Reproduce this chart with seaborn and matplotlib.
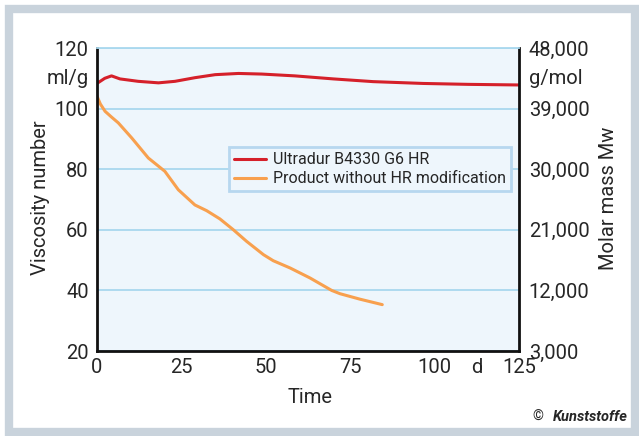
import matplotlib
matplotlib.use("Agg")
import matplotlib.pyplot as plt
import seaborn as sns
import pandas as pd
from matplotlib.patches import Rectangle

# ---- data ----
time_ultradur = [0, 0.4, 2.3, 4.3, 6.8, 12.2, 18.2, 23.1, 29, 35, 41.9, 48.8, 58.6, 70, 81.8, 96.6, 110, 125]
visc_ultradur = [108.3, 108.6, 110.0, 110.8, 109.8, 109.0, 108.5, 109.0, 110.2, 111.2, 111.6, 111.4, 110.8, 109.8, 108.9, 108.3, 108.0, 107.8]

time_product = [0, 1, 2.4, 4.2, 6.3, 10.3, 15.2, 20.1, 24.1, 29.0, 32.5, 36.4, 40.4, 44.3, 49.3, 52.2,
                57.2, 63.1, 69.5, 72.0, 77.9, 84.5]
visc_product = [104.1, 101.5, 99.1, 97.3, 95.3, 90.3, 83.7, 79.3, 73.2, 68.2, 66.3, 63.6, 60.0, 56.2, 51.8, 49.8,
                47.4, 44.1, 40.0, 38.9, 37.1, 35.3]

series_names = ["Ultradur B4330 G6 HR", "Product without HR modification"]
x_ticks = [0, 25, 50, 75, 100, 125]
y_ticks = [20, 40, 60, 80, 100, 120]
y2_ticks = [3000, 12000, 21000, 30000, 39000, 48000]
y2_labels = ["3,000", "12,000", "21,000", "30,000", "39,000", "48,000"]

RED = "#d5202a"
ORANGE = "#f8a04e"
GRID = "#a9d8ee"
BG = "#eef6fc"

sns.set_theme(style="white")
plt.rcParams['font.family'] = ['Roboto', 'DejaVu Sans']

df = pd.concat([
    pd.DataFrame({"Time": time_ultradur, "Viscosity": visc_ultradur, "Series": series_names[0]}),
    pd.DataFrame({"Time": time_product, "Viscosity": visc_product, "Series": series_names[1]}),
])

fig = plt.figure(figsize=(6.39, 4.36), dpi=100)
fig.patch.set_facecolor("white")
W, H = 639, 436
ax = fig.add_axes([97 / W, 85 / H, 422 / W, 303 / H])
ax.set_facecolor(BG)

sns.lineplot(data=df, x="Time", y="Viscosity", hue="Series", estimator=None, sort=False,
             palette={series_names[0]: RED, series_names[1]: ORANGE}, linewidth=2.2, ax=ax)

ax.set_xlim(0, 125)
ax.set_ylim(20, 120)
ax.set_xticks(x_ticks)
ax.set_yticks(y_ticks)
ax.set_xlabel("")
ax.set_ylabel("")
ax.yaxis.grid(True, color=GRID, linewidth=1.3)
ax.xaxis.grid(False)
ax.tick_params(axis="x", direction="in", length=7, width=1.3, color=GRID, labelsize=14.5, pad=5)
ax.tick_params(axis="y", length=0, labelsize=14.5, pad=6)
for s in ["left", "right", "bottom"]:
    ax.spines[s].set_color("#111111")
    ax.spines[s].set_linewidth(2)
ax.spines["top"].set_color(GRID)
ax.spines["top"].set_linewidth(1.3)

ax2 = ax.twinx()
ax2.set_ylim(3000, 48000)
ax2.set_yticks(y2_ticks)
ax2.set_yticklabels(y2_labels)
ax2.tick_params(axis="y", length=0, labelsize=14.5, pad=7)
ax2.grid(False)
for s in ax2.spines.values():
    s.set_visible(False)

# units
ax.text(-8 / 422, 110, "ml/g", transform=ax.get_yaxis_transform(), ha="right", va="center", fontsize=14.5)
ax.text(1 + 10 / 422, 110, "g/mol", transform=ax.get_yaxis_transform(), ha="left", va="center", fontsize=14.5)
ax.text(112.5, -7 / 303, "d", transform=ax.get_xaxis_transform(), ha="center", va="top", fontsize=14.5)

# axis labels
fig.text(41 / W, 1 - 198 / H, "Viscosity number", rotation=90, ha="center", va="center", fontsize=14.5)
fig.text(608 / W, 1 - 198 / H, "Molar mass Mw", rotation=90, ha="center", va="center", fontsize=14.5)
fig.text(310 / W, 1 - 397 / H, "Time", ha="center", va="center", fontsize=14.5)
fig.text(538 / W, 1 - 417 / H, "©", ha="center", va="center", fontsize=10)
fig.text(628 / W, 1 - 417 / H, "Kunststoffe", ha="right", va="center", fontsize=10.5,
         fontweight="bold", fontstyle="italic")

# legend
handles, labels = ax.get_legend_handles_labels()
leg = ax.legend(handles, labels, loc="upper left", bbox_to_anchor=(0.313, 0.673), borderaxespad=0,
                fontsize=11.5, frameon=True, fancybox=False, framealpha=1, facecolor=BG,
                edgecolor="#b7d7ef", handlelength=2.0, handletextpad=0.45, borderpad=0.32,
                labelspacing=0.25)
leg.get_frame().set_linewidth(2)

# outer frame
fig.patches.append(Rectangle((9 / W, 4 / H), 626 / W, 423 / H, transform=fig.transFigure,
                             fill=False, edgecolor="#c9d3dc", linewidth=6, zorder=0))

fig.savefig("out.png", dpi=100)
